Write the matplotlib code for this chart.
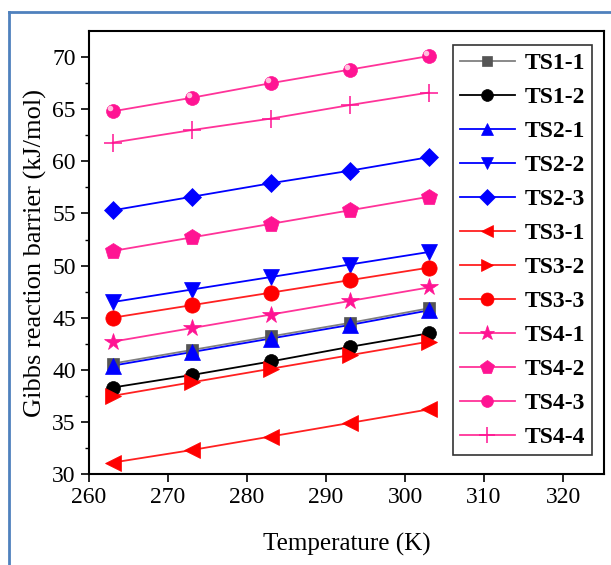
import matplotlib
matplotlib.use('Agg')
import matplotlib.pyplot as plt
from matplotlib.lines import Line2D

plt.rcParams['font.family'] = ['Liberation Serif', 'DejaVu Serif']

temps = [263, 273, 283, 293, 303]

ts1_1 = [40.6, 41.9, 43.2, 44.5, 45.9]
ts1_2 = [38.3, 39.5, 40.8, 42.2, 43.5]
ts2_1 = [40.4, 41.7, 43.0, 44.3, 45.7]
ts2_2 = [46.5, 47.7, 48.9, 50.1, 51.3]
ts2_3 = [55.3, 56.6, 57.9, 59.1, 60.4]
ts3_1 = [31.1, 32.3, 33.6, 34.9, 36.2]
ts3_2 = [37.5, 38.8, 40.1, 41.4, 42.7]
ts3_3 = [45.0, 46.2, 47.4, 48.6, 49.8]
ts4_1 = [42.7, 44.0, 45.3, 46.6, 47.9]
ts4_2 = [51.4, 52.7, 54.0, 55.3, 56.6]
ts4_3 = [64.8, 66.1, 67.5, 68.8, 70.1]
ts4_4 = [61.8, 63.0, 64.1, 65.4, 66.6]

series = [
    ('TS1-1', ts1_1, '#555555', '#808080', 's', 9),
    ('TS1-2', ts1_2, 'black', 'black', 'o', 10),
    ('TS2-1', ts2_1, '#0000ff', '#0000ff', '^', 11),
    ('TS2-2', ts2_2, '#0000ff', '#0000ff', 'v', 11),
    ('TS2-3', ts2_3, '#0000ff', '#0000ff', 'D', 9),
    ('TS3-1', ts3_1, '#ff0000', '#ff2020', '<', 11),
    ('TS3-2', ts3_2, '#ff0000', '#ff2020', '>', 11),
    ('TS3-3', ts3_3, '#ff0000', '#ff2020', 'o', 11),
    ('TS4-1', ts4_1, '#ff1493', '#ff3399', '*', 13),
    ('TS4-2', ts4_2, '#ff1493', '#ff3399', 'p', 12),
    ('TS4-3', ts4_3, '#ff1493', '#ff3399', 'o', 10),
    ('TS4-4', ts4_4, '#ff1493', '#ff3399', '+', 13),
]

fig = plt.figure(figsize=(6.11, 5.65), dpi=100)
ax = fig.add_axes([0.1457, 0.161, 0.843, 0.784])

# blue frame around the figure (left and top only)
fig.add_artist(Line2D([0.015, 0.015], [0, 0.979], transform=fig.transFigure,
                      color='#4f81bd', lw=2))
fig.add_artist(Line2D([0.015, 1.0], [0.979, 0.979], transform=fig.transFigure,
                      color='#4f81bd', lw=2))

handles = []
for name, ys, mcol, lcol, mk, ms in series:
    ax.plot(temps, ys, color=lcol, lw=1.3, zorder=2)
    ax.plot(temps, ys, linestyle='none', marker=mk, markersize=ms,
            color=mcol, markeredgewidth=1.1 if mk == '+' else 0.5,
            markeredgecolor=mcol, zorder=3)
    h = Line2D([], [], color=lcol, lw=1.3, marker=mk, markersize=ms * 0.85,
               markerfacecolor=mcol, markeredgecolor=mcol,
               markeredgewidth=1.1 if mk == '+' else 0.5)
    handles.append(h)

# highlight on the sphere-like TS4-3 markers
ax.plot([t - 0.4 for t in temps], [v + 0.3 for v in ts4_3], linestyle='none',
        marker='o', markersize=4, color='#ffc0dd', markeredgewidth=0, zorder=4)

ax.set_xlim(260, 325.2)
ax.set_ylim(30, 72.5)
ax.set_xticks([260, 270, 280, 290, 300, 310, 320])
ax.set_yticks([30, 35, 40, 45, 50, 55, 60, 65, 70])
ax.set_yticks([32.5, 37.5, 42.5, 47.5, 52.5, 57.5, 62.5, 67.5], minor=True)
ax.tick_params(axis='both', which='major', direction='out', length=6,
               width=1.2, labelsize=17, top=False, right=False)
ax.tick_params(axis='y', which='minor', direction='out', length=3, width=1.0)
for sp in ax.spines.values():
    sp.set_linewidth(1.5)

ax.set_xlabel('Temperature (K)', fontsize=18, labelpad=18)
ax.set_ylabel('Gibbs reaction barrier (kJ/mol)', fontsize=19, labelpad=4)

leg = ax.legend(handles=handles, labels=[s[0] for s in series],
                loc='upper right', bbox_to_anchor=(0.977, 0.968),
                prop={'size': 17, 'weight': 'bold'}, handlelength=2.35,
                labelspacing=0.53, handletextpad=0.4, borderpad=0.3,
                borderaxespad=0, frameon=True, fancybox=False)
leg.get_frame().set_edgecolor('black')
leg.get_frame().set_linewidth(1.2)

fig.savefig('out.png', dpi=100)
